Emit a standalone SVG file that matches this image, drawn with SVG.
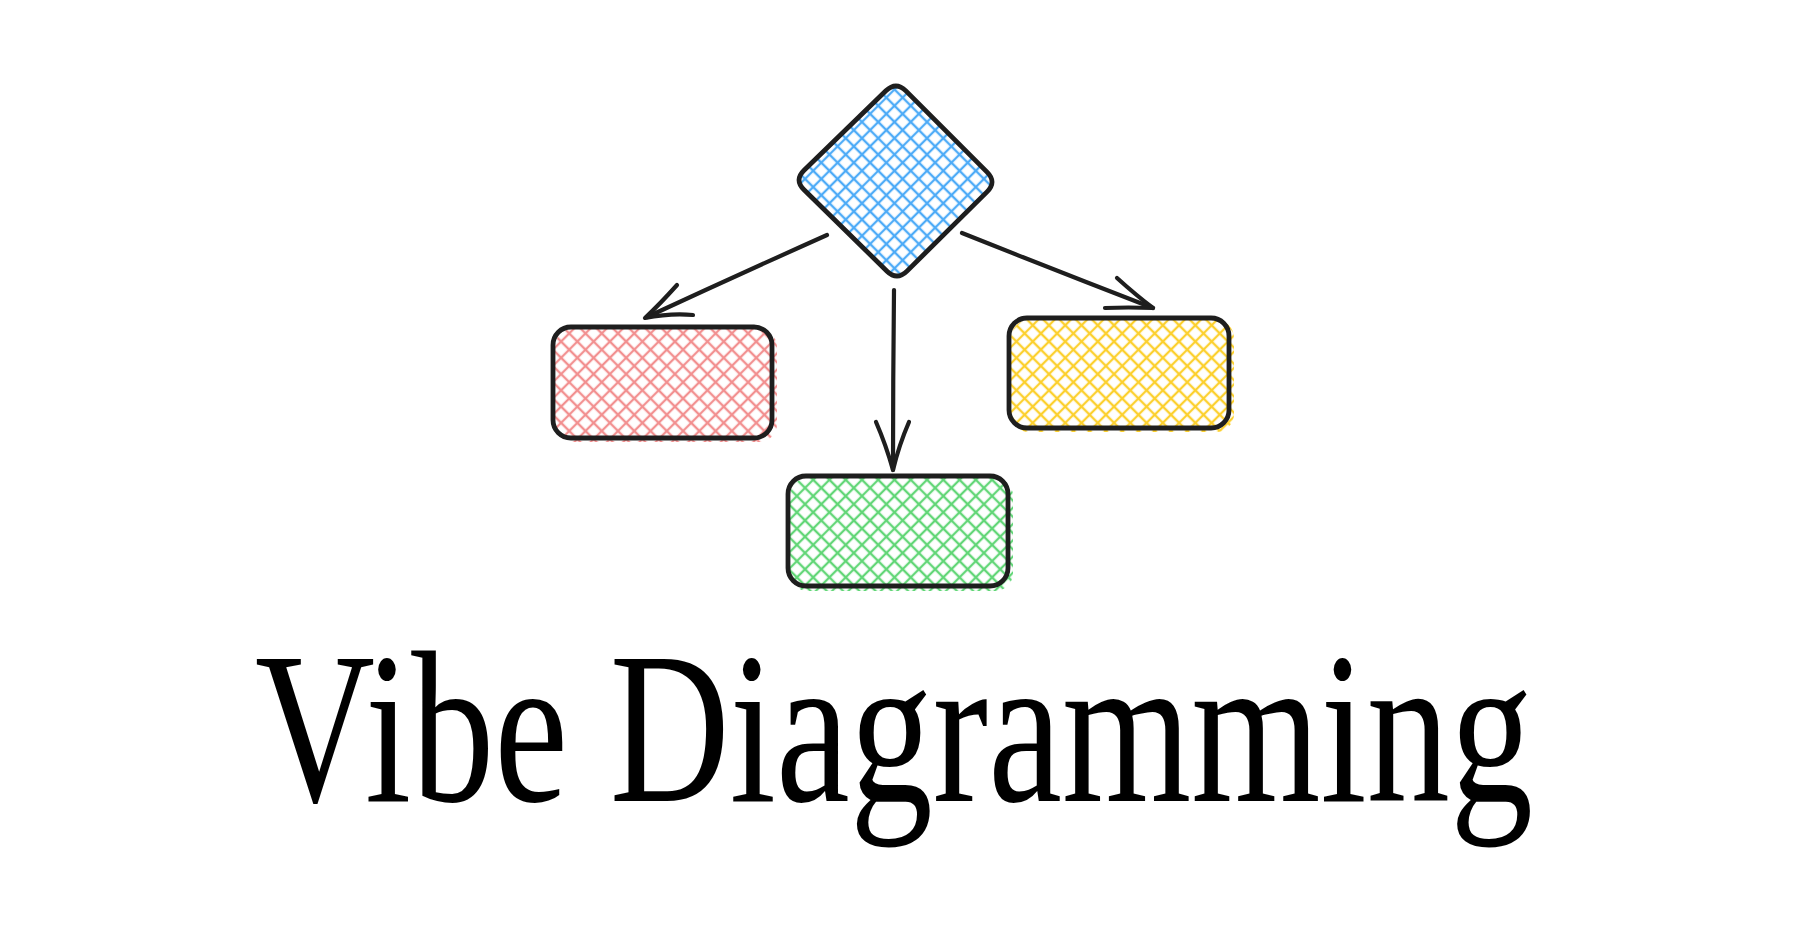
<svg xmlns="http://www.w3.org/2000/svg" width="1800" height="945" viewBox="0 0 1800 945">
<style>
.outline{fill:none;stroke:#1e1e1e;stroke-width:4.8;stroke-linejoin:round;stroke-linecap:round}
.conn{fill:none;stroke:#1e1e1e;stroke-width:4.2;stroke-linecap:round;stroke-linejoin:round}
.title{font-family:"Liberation Serif","Times New Roman",serif;font-size:217px;fill:#000}
</style>
<defs>
<pattern id="hBlue" patternUnits="userSpaceOnUse" width="11.5" height="11.5" patternTransform="rotate(45)">
<path d="M0 5.75H11.5M5.75 0V11.5" stroke="#4dabf7" stroke-width="2.3"/>
</pattern>
<pattern id="hRed" patternUnits="userSpaceOnUse" width="11.5" height="11.5" patternTransform="rotate(45)">
<path d="M0 5.75H11.5M5.75 0V11.5" stroke="#f29090" stroke-width="2.3"/>
</pattern>
<pattern id="hYellow" patternUnits="userSpaceOnUse" width="11.5" height="11.5" patternTransform="rotate(45)">
<path d="M0 5.75H11.5M5.75 0V11.5" stroke="#fcd02e" stroke-width="2.3"/>
</pattern>
<pattern id="hGreen" patternUnits="userSpaceOnUse" width="11.5" height="11.5" patternTransform="rotate(45)">
<path d="M0 5.75H11.5M5.75 0V11.5" stroke="#62d677" stroke-width="2.3"/>
</pattern>
</defs>
<rect width="1800" height="945" fill="#ffffff"/>

<g id="connectors">
<path class="conn" d="M827 235 Q740 274 647 317"/>
<path class="conn" d="M677 285 Q660 304 645 318 Q670 313 693 315"/>
<path class="conn" d="M894 290 Q893 380 893 470"/>
<path class="conn" d="M876 422 Q886 445 893 470 Q899 445 909 422"/>
<path class="conn" d="M962 233 Q1060 272 1153 308"/>
<path class="conn" d="M1117 278 Q1137 296 1153 308 Q1128 307 1105 308"/>
</g>

<g id="node-diamond">
<path d="M905.9 90.9L987.1 172.1Q997 182 987 191.9L907 271.1Q897 281 887 271.2L804 189.8Q794 180 804.1 170.2L885.9 90.8Q896 81 905.9 90.9Z" fill="url(#hBlue)"/>
<path class="outline" d="M905.9 90.9L987.1 172.1Q997 182 987 191.9L907 271.1Q897 281 887 271.2L804 189.8Q794 180 804.1 170.2L885.9 90.8Q896 81 905.9 90.9Z"/>
</g>

<g id="node-red">
<rect x="555" y="329" width="222" height="113" rx="18" fill="url(#hRed)"/>
<rect class="outline" x="553" y="327" width="219" height="111" rx="18"/>
</g>

<g id="node-yellow">
<rect x="1011" y="320" width="223" height="112" rx="18" fill="url(#hYellow)"/>
<rect class="outline" x="1009" y="318" width="220" height="110" rx="18"/>
</g>

<g id="node-green">
<rect x="790" y="478" width="223" height="113" rx="18" fill="url(#hGreen)"/>
<rect class="outline" x="788" y="476" width="220" height="110" rx="18"/>
</g>

<text class="title" x="255" y="801" textLength="1278" lengthAdjust="spacingAndGlyphs">Vibe Diagramming</text>
</svg>
